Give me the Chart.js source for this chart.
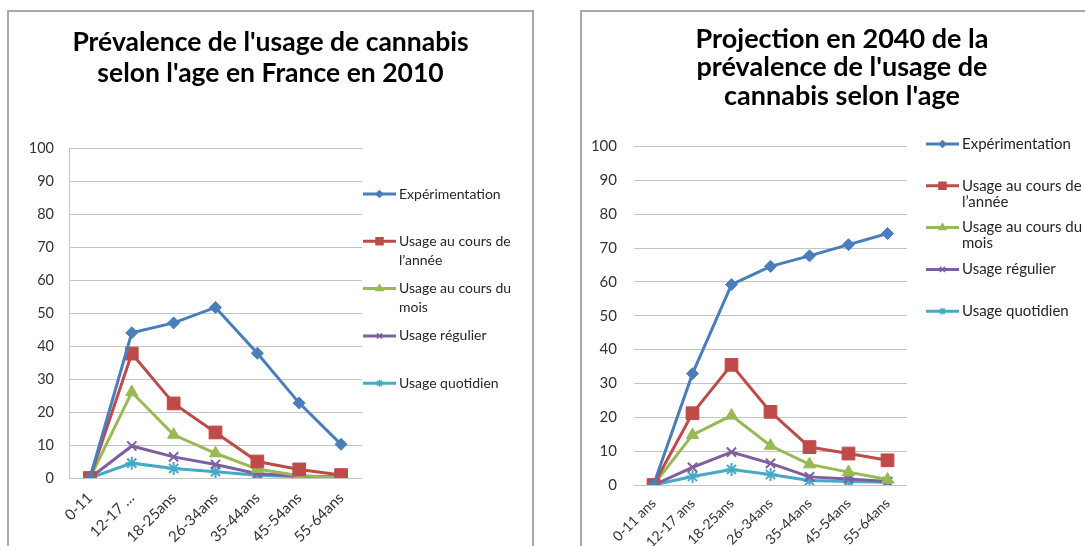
<!DOCTYPE html>
<html>
<head>
<meta charset="utf-8">
<script src="https://cdn.jsdelivr.net/npm/chart.js@4/dist/chart.umd.min.js"></script>
<style>
  body { margin: 0; background: #fff; width: 1085px; height: 546px; overflow: hidden; position: relative; }
  .frame { position: absolute; border: 2px solid #a9a9a9; background: #fff; }
  #f1 { left: 7px; top: 10px; width: 523px; height: 545px; }
  #f2 { left: 580px; top: 10px; width: 520px; height: 545px; }
  canvas { display: block; }
</style>
</head>
<body>
<div class="frame" id="f1"><canvas id="c1" width="523" height="540"></canvas></div>
<div class="frame" id="f2"><canvas id="c2" width="520" height="540"></canvas></div>
<script>
// categories
const ages2010 = ['0-11', '12-17 …', '18-25ans', '26-34ans', '35-44ans', '45-54ans', '55-64ans'];
const ages2040 = ['0-11 ans', '12-17 ans', '18-25ans', '26-34ans', '35-44ans', '45-54ans', '55-64ans'];
const seriesNames = ['Expérimentation', 'Usage au cours de l’année', 'Usage au cours du mois', 'Usage régulier', 'Usage quotidien'];

// France 2010 (%)
const exp2010 = [0, 44, 47, 51.7, 37.8, 22.7, 10.2];
const annee2010 = [0, 37.7, 22.6, 13.8, 5, 2.6, 0.9];
const mois2010 = [0, 26, 13.1, 7.5, 2.7, 0.7, 0.1];
const regulier2010 = [0, 9.7, 6.4, 4.1, 1.3, 0.6, 0.3];
const quotidien2010 = [0, 4.5, 2.9, 1.9, 0.8, 0.4, 0.2];

// projection 2040 (%)
const exp2040 = [0, 32.9, 59.2, 64.6, 67.7, 71, 74.3];
const annee2040 = [0, 21.2, 35.5, 21.6, 11.2, 9.3, 7.3];
const mois2040 = [0, 14.8, 20.5, 11.6, 6.1, 3.8, 1.6];
const regulier2040 = [0, 5.2, 9.7, 6.4, 2.4, 1.8, 1];
const quotidien2040 = [0, 2.5, 4.6, 3.1, 1.3, 1, 0.8];

const yTicks = [0, 10, 20, 30, 40, 50, 60, 70, 80, 90, 100];

const colors = ['#4a7ebb', '#be4b48', '#98b954', '#7d60a0', '#46aac5'];
const markers = ['rectRot', 'rect', 'triangle', 'crossRot', 'star'];
const markerSize = [6, 9, 7, 6.5, 6.5];

Chart.defaults.font.family = 'Lato';

function makeDatasets(series) {
  return series.map((vals, i) => ({
    label: seriesNames[i],
    data: vals,
    borderColor: colors[i],
    backgroundColor: colors[i],
    borderWidth: 3,
    tension: 0,
    pointStyle: markers[i],
    pointRadius: markerSize[i],
    pointBorderWidth: (i >= 3) ? 2 : 1,
    pointBackgroundColor: colors[i],
    pointBorderColor: colors[i]
  }));
}

// legend on the right, Excel style (line + marker, wrapped text)
const sideLegend = {
  id: 'sideLegend',
  afterDraw(chart, args, opts) {
    const ctx = chart.ctx;
    ctx.save();
    ctx.font = opts.fontSize + 'px Lato';
    ctx.textBaseline = 'middle';
    let y = opts.y;
    chart.data.datasets.forEach((ds) => {
      ctx.strokeStyle = ds.borderColor;
      ctx.fillStyle = ds.borderColor;
      ctx.lineWidth = 3;
      ctx.beginPath();
      ctx.moveTo(opts.x, y);
      ctx.lineTo(opts.x + opts.sample, y);
      ctx.stroke();
      ctx.lineWidth = 1.5;
      Chart.helpers.drawPoint(ctx, {
        pointStyle: ds.pointStyle,
        radius: ds.pointRadius * 0.55,
        borderWidth: 1.5,
        rotation: 0
      }, opts.x + opts.sample / 2, y);

      // wrap label
      const words = ds.label.split(' ');
      const lines = [];
      let cur = '';
      words.forEach(w => {
        const test = cur ? cur + ' ' + w : w;
        if (cur && ctx.measureText(test).width > opts.maxWidth) {
          lines.push(cur);
          cur = w;
        } else {
          cur = test;
        }
      });
      lines.push(cur);
      ctx.fillStyle = '#262626';
      lines.forEach((l, k) => ctx.fillText(l, opts.x + opts.sample + 3, y + k * opts.lineHeight));
      y += opts.step;
    });
    ctx.restore();
  }
};

function makeChart(id, labels, series, cfg) {
  return new Chart(document.getElementById(id), {
    type: 'line',
    data: { labels: labels, datasets: makeDatasets(series) },
    options: {
      responsive: false,
      animation: false,
      layout: { padding: 0 },
      plugins: {
        legend: { display: false },
        tooltip: { enabled: false },
        title: {
          display: true,
          text: cfg.title,
          color: '#000',
          font: { size: cfg.titleSize, weight: 'bold', lineHeight: cfg.titleLine / cfg.titleSize },
          padding: cfg.titlePad
        },
        sideLegend: cfg.legend
      },
      scales: {
        x: {
          offset: true,
          grid: { display: false, drawTicks: false },
          border: { display: false },
          ticks: {
            autoSkip: false, minRotation: 45, maxRotation: 45,
            padding: cfg.xPad, color: '#333', font: { size: cfg.xSize }
          },
          afterFit: (s) => { s.height = cfg.xHeight; }
        },
        y: {
          min: 0, max: 100,
          afterBuildTicks: (s) => { s.ticks = yTicks.map(v => ({ value: v })); },
          grid: { color: '#c4c4c4', lineWidth: 1, drawTicks: false },
          border: { display: cfg.axisLine, color: '#c4c4c4' },
          ticks: { padding: cfg.yPad, color: '#333', font: { size: cfg.tickSize } },
          afterFit: (s) => { s.width = cfg.yWidth; }
        },
        // empty box on the right to leave room for the legend
        legendSpace: {
          type: 'linear',
          position: 'right',
          grid: { display: false, drawTicks: false },
          border: { display: false },
          ticks: { display: false },
          afterFit: (s) => { s.width = cfg.padRight; }
        }
      }
    },
    plugins: [sideLegend]
  });
}

makeChart('c1', ages2010,
  [exp2010, annee2010, mois2010, regulier2010, quotidien2010],
  {
    title: ["Prévalence de l'usage de cannabis", "selon l'age en France en 2010"],
    titleSize: 26.5, titleLine: 31, titlePad: { top: 15, bottom: 59 },
    padRight: 170, yWidth: 60, yPad: 15, xHeight: 74, xPad: 11, xSize: 15, axisLine: true, tickSize: 14.5,
    legend: { x: 354, y: 182, step: 47.3, lineHeight: 19, sample: 33, maxWidth: 122, fontSize: 14 }
  });

makeChart('c2', ages2040,
  [exp2040, annee2040, mois2040, regulier2040, quotidien2040],
  {
    title: ['Projection en 2040 de la', "prévalence de l'usage de", "cannabis selon l'age"],
    titleSize: 27, titleLine: 28.5, titlePad: { top: 13, bottom: 36 },
    padRight: 195, yWidth: 52, yPad: 17, xHeight: 67, xPad: 10, xSize: 14, axisLine: false, tickSize: 15,
    legend: { x: 344, y: 132, step: 41.8, lineHeight: 16, sample: 33, maxWidth: 130, fontSize: 15 }
  });
</script>
</body>
</html>
